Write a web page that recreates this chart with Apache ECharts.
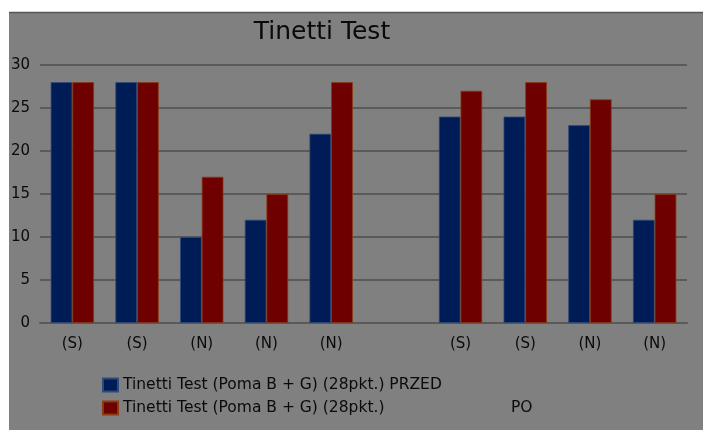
<!DOCTYPE html>
<html>
<head>
<meta charset="utf-8">
<script src="https://cdn.jsdelivr.net/npm/echarts@6/dist/echarts.min.js"></script>
<style>
html,body{margin:0;padding:0;background:#fff;}
#c{width:703px;height:430px;}
</style>
</head>
<body>
<div id="c"></div>
<script>
var categories = ['(S)', '(S)', '(N)', '(N)', '(N)', '', '(S)', '(S)', '(N)', '(N)'];
var przed = [28, 28, 10, 12, 22, '-', 24, 24, 23, 12];
var po = [28, 28, 17, 15, 28, '-', 27, 28, 26, 15];
var seriesNames = ['Tinetti Test (Poma B + G) (28pkt.) PRZED', 'Tinetti Test (Poma B + G) (28pkt.) PO'];
var legendMain = 'Tinetti Test (Poma B + G) (28pkt.)';
var legendTail = 'PO';
var yTicks = {min: 0, max: 30, interval: 5};

var chart = echarts.init(document.getElementById('c'));
var font = '"DejaVu Sans", sans-serif';
var txtColor = '#0a0a0a';
chart.setOption({
  backgroundColor: '#ffffff',
  animation: false,
  graphic: [
    {type: 'rect', left: 9, top: 12, z: -10, shape: {width: 694, height: 418}, style: {fill: '#808080'}},
    {type: 'line', z: -9, shape: {x1: 9, y1: 12.5, x2: 703, y2: 12.5}, style: {stroke: '#555', lineWidth: 1.5}}
  ],
  title: {
    text: 'Tinetti Test',
    left: 317, top: 15, textAlign: 'center',
    textStyle: {fontFamily: font, fontSize: 25, fontWeight: 'normal', color: txtColor}
  },
  grid: {left: 40, right: 16, top: 65, bottom: 107},
  legend: {
    orient: 'vertical', left: 97, top: 372, itemWidth: 15, itemHeight: 13, itemGap: 7,
    icon: 'rect',
    textStyle: {fontFamily: font, fontSize: 15.5, lineHeight: 14, color: txtColor,
      rich: {
        a: {fontFamily: font, fontSize: 15.5, color: txtColor, width: 388},
        b: {fontFamily: font, fontSize: 15.5, color: txtColor}
      }
    },
    formatter: function (name) {
      if (name === seriesNames[1]) return '{a|' + legendMain + '}{b|' + legendTail + '}';
      return name;
    },
    data: seriesNames
  },
  xAxis: {
    type: 'category', data: categories,
    axisLine: {lineStyle: {color: '#5a5a5a', width: 2}},
    axisTick: {show: false},
    axisLabel: {fontFamily: font, fontSize: 15, color: txtColor, margin: 14, interval: 0}
  },
  yAxis: {
    type: 'value', min: yTicks.min, max: yTicks.max, interval: yTicks.interval,
    axisLine: {show: false}, axisTick: {show: false},
    splitLine: {lineStyle: {color: '#5a5a5a', width: 2}},
    axisLabel: {fontFamily: font, fontSize: 15, color: txtColor, margin: 10}
  },
  series: [
    {name: seriesNames[0], type: 'bar', data: przed, barGap: '0%', barCategoryGap: '33%',
     itemStyle: {color: '#001c56', borderColor: '#2d4a78', borderWidth: 0.8}},
    {name: seriesNames[1], type: 'bar', data: po,
     itemStyle: {color: '#6e0000', borderColor: '#8a3a10', borderWidth: 0.8}}
  ]
});
</script>
</body>
</html>
